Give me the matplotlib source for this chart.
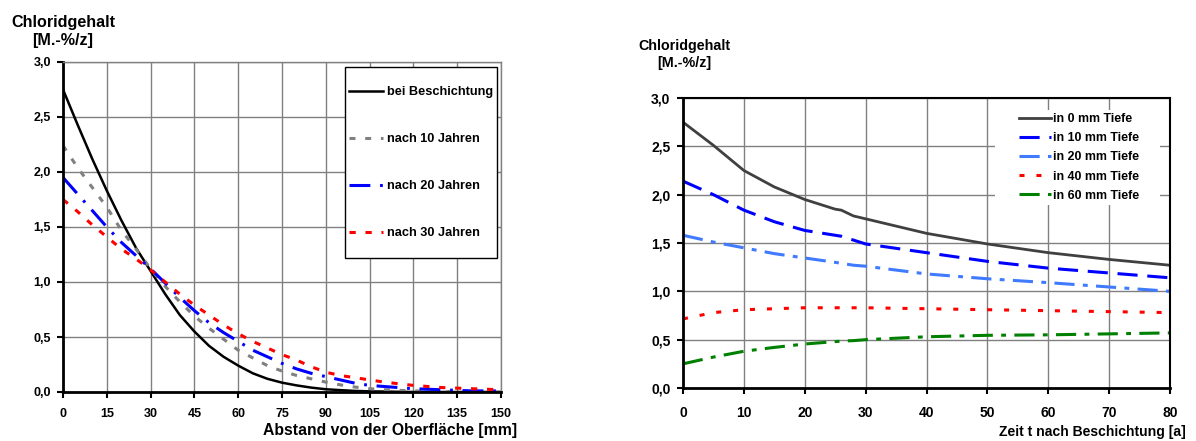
import matplotlib
matplotlib.use('Agg')
import matplotlib.pyplot as plt
from matplotlib.ticker import FuncFormatter
from matplotlib.patches import Rectangle

# Left chart: chloride profile over depth
depth_mm = [0, 5, 10, 15, 20, 25, 30, 35, 40, 45, 50, 55, 60, 65, 70, 75,
            80, 85, 90, 95, 100, 105, 110, 115, 120, 130, 140, 150]
cl_initial = [2.75, 2.43, 2.12, 1.83, 1.56, 1.31, 1.10, 0.89, 0.70, 0.55, 0.42, 0.32, 0.24, 0.17,
              0.12, 0.085, 0.06, 0.04, 0.025, 0.017, 0.01, 0.006, 0.004, 0.002, 0.0, 0.0, 0.0, 0.0]
cl_10y = [2.24, 2.04, 1.86, 1.68, 1.47, 1.30, 1.12, 0.96, 0.82, 0.69, 0.58, 0.48, 0.38, 0.31,
          0.24, 0.19, 0.15, 0.12, 0.09, 0.065, 0.045, 0.03, 0.02, 0.015, 0.01, 0.005, 0.002, 0.0]
cl_20y = [1.95, 1.80, 1.65, 1.50, 1.36, 1.24, 1.12, 0.99, 0.86, 0.74, 0.63, 0.54, 0.46, 0.38,
          0.32, 0.26, 0.21, 0.17, 0.14, 0.11, 0.08, 0.06, 0.05, 0.04, 0.03, 0.02, 0.01, 0.01]
cl_30y = [1.75, 1.64, 1.52, 1.41, 1.30, 1.21, 1.11, 1.00, 0.89, 0.79, 0.70, 0.61, 0.53, 0.46,
          0.40, 0.34, 0.29, 0.23, 0.18, 0.15, 0.13, 0.11, 0.09, 0.075, 0.06, 0.04, 0.03, 0.02]
left_labels = ['bei Beschichtung', 'nach 10 Jahren', 'nach 20 Jahren', 'nach 30 Jahren']

# Right chart: chloride over time at given depths
years = [0, 5, 10, 15, 20, 25, 26, 28, 30, 40, 50, 60, 70, 80]
cl_0mm = [2.75, 2.51, 2.25, 2.08, 1.95, 1.85, 1.84, 1.78, 1.75, 1.60, 1.49, 1.40, 1.33, 1.27]
cl_10mm = [2.14, 2.00, 1.84, 1.72, 1.63, 1.58, 1.57, 1.53, 1.49, 1.40, 1.31, 1.24, 1.19, 1.14]
cl_20mm = [1.58, 1.51, 1.45, 1.39, 1.345, 1.30, 1.29, 1.27, 1.26, 1.18, 1.13, 1.09, 1.045, 1.0]
cl_40mm = [0.715, 0.78, 0.81, 0.82, 0.83, 0.83, 0.83, 0.83, 0.83, 0.82, 0.81, 0.80, 0.79, 0.78]
cl_60mm = [0.25, 0.32, 0.38, 0.42, 0.455, 0.48, 0.485, 0.49, 0.50, 0.53, 0.545, 0.55, 0.56, 0.57]
right_labels = ['in 0 mm Tiefe', 'in 10 mm Tiefe', 'in 20 mm Tiefe', 'in 40 mm Tiefe', 'in 60 mm Tiefe']

plt.rcParams['font.family'] = ['Liberation Sans', 'DejaVu Sans']
plt.rcParams['font.weight'] = 'bold'
plt.rcParams['lines.scale_dashes'] = False

fig = plt.figure(figsize=(11.96, 4.41), dpi=100)
W, H = 1196, 441


def add_axes_px(x0, y0, x1, y1):
    return fig.add_axes([x0 / W, 1 - y1 / H, (x1 - x0) / W, (y1 - y0) / H])


def fig_rect(ax, x0, y0, x1, y1, edge):
    # box in pixel coords (top-left origin), used behind the legends
    r = Rectangle((x0 / W, 1 - y1 / H), (x1 - x0) / W, (y1 - y0) / H, transform=fig.transFigure,
                  facecolor='white', edgecolor=edge, linewidth=1.0, zorder=4, clip_on=False)
    ax.add_patch(r)


comma = FuncFormatter(lambda v, _: f'{v:.1f}'.replace('.', ','))


def style_axes(ax, top_right_color, size, xpad, ypad):
    ax.grid(True, color='#808080', linewidth=1.0)
    ax.set_axisbelow(True)
    ax.spines['left'].set_linewidth(2)
    ax.spines['bottom'].set_linewidth(2)
    for s in ['top', 'right']:
        ax.spines[s].set_color(top_right_color)
        ax.spines[s].set_linewidth(1.0 if top_right_color != 'black' else 1.5)
    ax.tick_params(direction='out', length=4, width=1.5, labelsize=size)
    ax.tick_params(axis='x', pad=xpad)
    ax.tick_params(axis='y', pad=ypad)
    ax.yaxis.set_major_formatter(comma)
    for lbl in ax.get_xticklabels() + ax.get_yticklabels():
        lbl.set_fontweight('bold')


# ---- left chart
ax1 = add_axes_px(63, 62, 501, 392)
ax1.plot(depth_mm, cl_initial, color='black', linewidth=1.8, label=left_labels[0])
ax1.plot(depth_mm, cl_10y, color='#808080', linewidth=2.2, dashes=(4.3, 7), label=left_labels[1])
ax1.plot(depth_mm, cl_20y, color='#0000FF', linewidth=2.2, dashes=(15, 7, 2, 7), label=left_labels[2])
ax1.plot(depth_mm, cl_30y, color='#FF0000', linewidth=2.2, dashes=(4.5, 7), label=left_labels[3])
ax1.set_xlim(0, 150)
ax1.set_ylim(0, 3.0)
ax1.set_xticks(range(0, 151, 15))
ax1.set_yticks([0, 0.5, 1.0, 1.5, 2.0, 2.5, 3.0])
style_axes(ax1, '#808080', 9, 7.5, 4.5)
fig_rect(ax1, 345, 67, 497, 258, 'black')
leg1 = ax1.legend(loc='upper left', bbox_to_anchor=(349 / W, 1 - 86 / H), bbox_transform=fig.transFigure,
                  frameon=False, fontsize=9.2, labelspacing=2.74, handlelength=2.66,
                  handletextpad=0.3, borderpad=0, borderaxespad=0)
leg1.set_zorder(5)
for t in leg1.get_texts():
    t.set_fontweight('bold')
fig.text(63 / W, 1 - 22 / H, 'Chloridgehalt', ha='center', va='center', fontsize=11.6, fontweight='bold')
fig.text(63 / W, 1 - 40 / H, '[M.-%/z]', ha='center', va='center', fontsize=11.6, fontweight='bold')
fig.text(390 / W, 1 - 430 / H, 'Abstand von der Oberfläche [mm]', ha='center', va='center',
         fontsize=11.3, fontweight='bold')

# ---- right chart
ax2 = add_axes_px(683, 98, 1170, 388)
ax2.plot(years, cl_0mm, color='#404040', linewidth=2.0, label=right_labels[0])
ax2.plot(years, cl_10mm, color='#0000FF', linewidth=2.2, dashes=(14.5, 7), label=right_labels[1])
ax2.plot(years, cl_20mm, color='#3F7AFF', linewidth=2.2, dashes=(14.5, 6, 3.5, 6), label=right_labels[2])
ax2.plot(years, cl_40mm, color='#FF0000', linewidth=2.2, dashes=(3.6, 8.6), label=right_labels[3])
ax2.plot(years, cl_60mm, color='#008000', linewidth=2.2, dashes=(14.5, 6, 3.5, 6), label=right_labels[4])
ax2.set_xlim(0, 80)
ax2.set_ylim(0, 3.0)
ax2.set_xticks(range(0, 81, 10))
ax2.set_yticks([0, 0.5, 1.0, 1.5, 2.0, 2.5, 3.0])
style_axes(ax2, 'black', 10, 9, 5)
fig_rect(ax2, 995, 110, 1160, 205, 'none')
leg2 = ax2.legend(loc='upper left', bbox_to_anchor=(1019 / W, 1 - 113 / H), bbox_transform=fig.transFigure,
                  frameon=False, fontsize=8.9, labelspacing=0.58, handlelength=2.6,
                  handletextpad=0.15, borderpad=0, borderaxespad=0)
leg2.set_zorder(5)
for t in leg2.get_texts():
    t.set_fontweight('bold')
fig.text(684 / W, 1 - 46 / H, 'Chloridgehalt', ha='center', va='center', fontsize=10.3, fontweight='bold')
fig.text(684 / W, 1 - 63 / H, '[M.-%/z]', ha='center', va='center', fontsize=10.3, fontweight='bold')
fig.text(1186 / W, 1 - 432 / H, 'Zeit t nach Beschichtung [a]', ha='right', va='center',
         fontsize=10.1, fontweight='bold')

fig.savefig('out.png', dpi=100)
